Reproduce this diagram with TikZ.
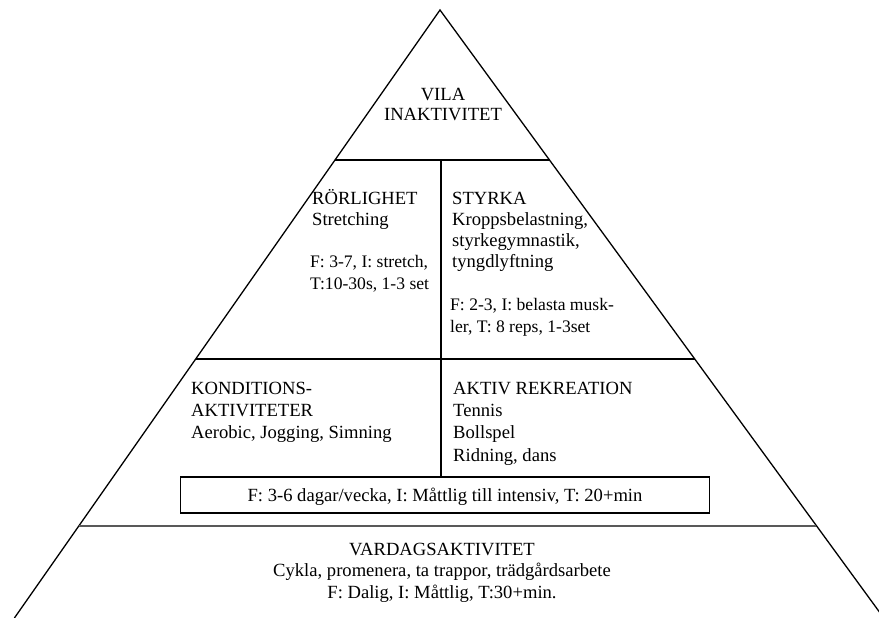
\documentclass[tikz,border=0pt]{standalone}
\usepackage{fontspec}
\setmainfont{Liberation Serif}
\begin{document}
\begin{tikzpicture}[x=1pt,y=-1pt,
  edge/.style={line width=1.3pt,black},
  base/.style={line width=2pt,black!65},
  lt/.style={anchor=base west,inner sep=0pt,font=\fontsize{18.6}{21}\selectfont},
  st/.style={anchor=base west,inner sep=0pt,font=\fontsize{17.6}{20}\selectfont},
  ct/.style={anchor=base,inner sep=0pt,font=\fontsize{18.6}{21}\selectfont}]
\useasboundingbox (0,0) rectangle (879,618);
\begin{scope}
\clip (0,0) rectangle (879,618);
\coordinate (apex) at (440,10);
\coordinate (bl) at (14.4,618);
\coordinate (br) at (883.8,618);
\coordinate (l1) at (335,160);   \coordinate (r1) at (549.5,160);
\coordinate (l2) at (195.7,359); \coordinate (r2) at (694.8,359);
\coordinate (l3) at (79.2,525.5);  \coordinate (r3) at (816.3,525.5);
\coordinate (m1) at (441,160);   \coordinate (m2) at (441,477);
\draw[edge] (bl) -- (apex) -- (br);
\draw[edge] (l1) -- (r1);
\draw[edge] (l2) -- (r2);
\draw[base] (l3) -- (r3);
\draw[edge] (m1) -- (m2);
\end{scope}
\node[draw,line width=1.4pt,minimum width=529pt,minimum height=36pt,inner sep=0pt] (box) at (445,495) {};
\node[ct] (t1) at (443,100) {VILA};
\node[ct] (t2) at (443,121) {INAKTIVITET};
\node[lt] (r1t) at (312,204) {RÖRLIGHET};
\node[lt] (r2t) at (312,225) {Stretching};
\node[st] (r3t) at (310,267) {F: 3-7, I: stretch,};
\node[st] (r4t) at (310,289) {T:10-30s, 1-3 set};
\node[lt] (s1t) at (452,204) {STYRKA};
\node[lt] (s2t) at (452,225) {Kroppsbelastning,};
\node[lt] (s3t) at (452,246) {styrkegymnastik,};
\node[lt] (s4t) at (452,267) {tyngdlyftning};
\node[st] (s5t) at (450,310) {F: 2-3, I: belasta musk-};
\node[st] (s6t) at (450,332) {ler, T: 8 reps, 1-3set};
\node[lt] (k1t) at (191,394) {KONDITIONS-};
\node[lt] (k2t) at (191,416) {AKTIVITETER};
\node[lt] (k3t) at (191,438) {Aerobic, Jogging, Simning};
\node[lt] (a1t) at (453,394) {AKTIV REKREATION};
\node[lt] (a2t) at (453,416) {Tennis};
\node[lt] (a3t) at (453,438) {Bollspel};
\node[lt] (a4t) at (453,461) {Ridning, dans};
\node[ct] (bt) at (445,501) {F: 3-6 dagar/vecka, I: Måttlig till intensiv, T: 20+min};
\node[ct] (v1t) at (442,555) {VARDAGSAKTIVITET};
\node[ct] (v2t) at (442,576.5) {Cykla, promenera, ta trappor, trädgårdsarbete};
\node[ct] (v3t) at (442,598) {F: Dalig, I: Måttlig, T:30+min.};
\end{tikzpicture}
\end{document}
